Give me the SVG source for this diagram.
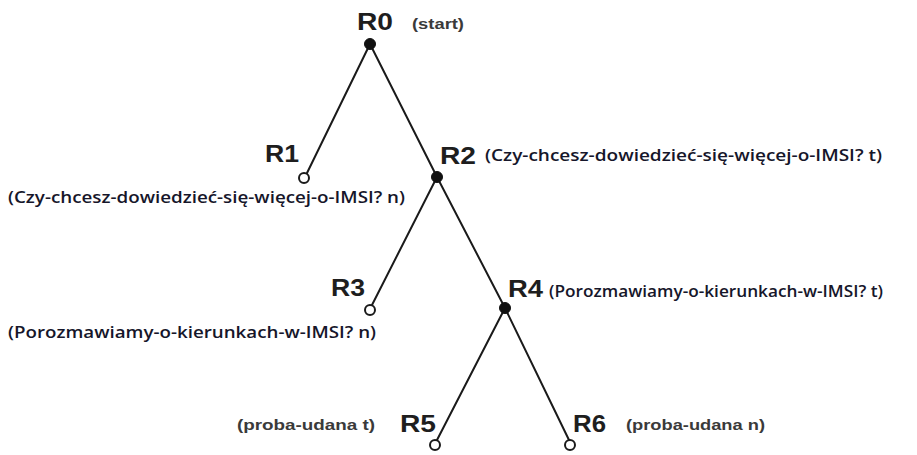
<svg xmlns="http://www.w3.org/2000/svg" width="917" height="455" viewBox="0 0 917 455">
  <style>
    .bg { fill: #ffffff; }
    .edge { stroke: #1a1a1a; stroke-width: 2; fill: none; stroke-linecap: round; }
    .inner { fill: #111111; stroke: #111111; stroke-width: 1; }
    .leaf { fill: #ffffff; stroke: #1a1a1a; stroke-width: 2; }
    .name { font-family: "Liberation Sans", Arial, sans-serif; font-weight: bold; font-size: 23px; fill: #1e1e1e; }
    .note { font-family: "Liberation Sans", Arial, sans-serif; font-weight: bold; font-size: 15px; fill: #3a3a3a; }
    .q { font-family: "Open Sans", "Noto Sans", sans-serif; font-weight: 600; font-size: 16px; fill: #16162a; }
  </style>
  <rect class="bg" x="0" y="0" width="917" height="455"/>

  <!-- connectors -->
  <g id="edges">
    <line class="edge" x1="370" y1="44" x2="307" y2="173"/>
    <line class="edge" x1="370" y1="44" x2="437" y2="177"/>
    <line class="edge" x1="437" y1="177" x2="372" y2="305"/>
    <line class="edge" x1="437" y1="177" x2="505" y2="308"/>
    <line class="edge" x1="505" y1="308" x2="437" y2="440"/>
    <line class="edge" x1="505" y1="308" x2="569" y2="440"/>
  </g>

  <g id="R0">
    <circle class="inner" cx="370" cy="44" r="5.5"/>
    <text class="name" x="357" y="30" textLength="36" lengthAdjust="spacingAndGlyphs">R0</text>
    <text class="note" x="412" y="29" textLength="52" lengthAdjust="spacingAndGlyphs">(start)</text>
  </g>

  <g id="R1">
    <circle class="leaf" cx="304" cy="178" r="5"/>
    <text class="name" x="265" y="162" textLength="34" lengthAdjust="spacingAndGlyphs">R1</text>
    <text class="q" x="8" y="203" textLength="397" lengthAdjust="spacingAndGlyphs">(Czy-chcesz-dowiedzieć-się-więcej-o-IMSI? n)</text>
  </g>

  <g id="R2">
    <circle class="inner" cx="437" cy="177" r="5.5"/>
    <text class="name" x="440" y="164" textLength="36" lengthAdjust="spacingAndGlyphs">R2</text>
    <text class="q" x="485" y="161" textLength="397" lengthAdjust="spacingAndGlyphs">(Czy-chcesz-dowiedzieć-się-więcej-o-IMSI? t)</text>
  </g>

  <g id="R3">
    <circle class="leaf" cx="370" cy="310" r="5"/>
    <text class="name" x="331" y="296" textLength="34" lengthAdjust="spacingAndGlyphs">R3</text>
    <text class="q" x="8" y="338" textLength="368" lengthAdjust="spacingAndGlyphs">(Porozmawiamy-o-kierunkach-w-IMSI? n)</text>
  </g>

  <g id="R4">
    <circle class="inner" cx="505" cy="308" r="5.5"/>
    <text class="name" x="508" y="297" textLength="35" lengthAdjust="spacingAndGlyphs">R4</text>
    <text class="q" x="549" y="297" textLength="334" lengthAdjust="spacingAndGlyphs">(Porozmawiamy-o-kierunkach-w-IMSI? t)</text>
  </g>

  <g id="R5">
    <circle class="leaf" cx="435" cy="445" r="5"/>
    <text class="name" x="400" y="432" textLength="36" lengthAdjust="spacingAndGlyphs">R5</text>
    <text class="note" x="237" y="430" textLength="138" lengthAdjust="spacingAndGlyphs">(proba-udana t)</text>
  </g>

  <g id="R6">
    <circle class="leaf" cx="570" cy="445" r="5"/>
    <text class="name" x="573" y="432" textLength="33" lengthAdjust="spacingAndGlyphs">R6</text>
    <text class="note" x="626" y="430" textLength="139" lengthAdjust="spacingAndGlyphs">(proba-udana n)</text>
  </g>
</svg>
